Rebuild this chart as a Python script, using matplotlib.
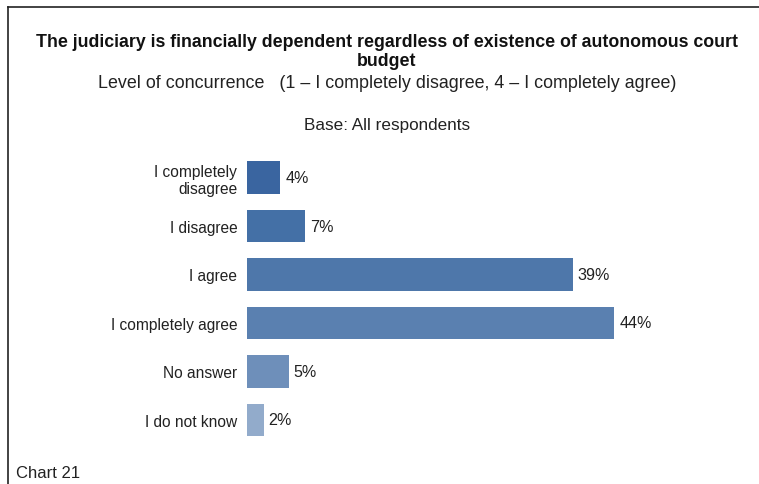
import matplotlib
matplotlib.use("Agg")
import matplotlib.pyplot as plt
from matplotlib.lines import Line2D

# ------------------- Data ------------------- #
categories = ["I completely\ndisagree", "I disagree", "I agree",
              "I completely agree", "No answer", "I do not know"]
values = [4, 7, 39, 44, 5, 2]
value_labels = ["4%", "7%", "39%", "44%", "5%", "2%"]
bar_colors = ["#3a65a0", "#4470a6", "#4e77aa", "#5a80b0", "#6e8fba", "#92abcb"]

plt.rcParams['font.family'] = ['Liberation Sans', 'DejaVu Sans']
W, H = 759, 485
fig = plt.figure(figsize=(W / 100, H / 100), dpi=100)
fig.patch.set_facecolor("white")

# axes placed in pixel terms
ax_left, ax_right, ax_top, ax_bottom = 247, 748, 154.25, 445.25
ax = fig.add_axes([ax_left / W, 1 - ax_bottom / H,
                   (ax_right - ax_left) / W, (ax_bottom - ax_top) / H])

y = list(range(len(categories)))
ax.barh(y, values, height=0.68, color=bar_colors, edgecolor="none")
ax.set_xlim(0, 60)
ax.set_ylim(len(categories) - 0.5, -0.5)

for yi, v, lab in zip(y, values, value_labels):
    ax.text(v + 0.6, yi, lab, va="center", ha="left", fontsize=11.6, color="#222222")

ax.set_yticks(y)
ax.set_yticklabels(categories, fontsize=11.2, color="#222222", linespacing=1.15)
ax.tick_params(axis="y", length=0, pad=7)
ax.set_xticks([])
for s in ax.spines.values():
    s.set_visible(False)

# ------------------- Titles ------------------- #
cx = 387 / W
fig.text(cx, 1 - 42.5 / H, "The judiciary is financially dependent regardless of existence of autonomous court",
         ha="center", va="center", fontsize=12.8, fontweight="bold", color="#111111")
fig.text(cx, 1 - 61.5 / H, "budget", ha="center", va="center", fontsize=12.8,
         fontweight="bold", color="#111111")
fig.text(cx, 1 - 84 / H, "Level of concurrence   (1 \u2013 I completely disagree, 4 \u2013 I completely agree)",
         ha="center", va="center", fontsize=12.9, color="#222222")
fig.text(cx, 1 - 126 / H, "Base: All respondents", ha="center", va="center",
         fontsize=12.3, color="#222222")
fig.text(16 / W, 1 - 474 / H, "Chart 21", ha="left", va="center",
         fontsize=12, color="#222222")

# frame lines (left and top only)
fig.add_artist(Line2D([7.5 / W, 7.5 / W], [0, 1 - 7.5 / H], color="#222222", lw=1.2))
fig.add_artist(Line2D([7.5 / W, 1], [1 - 7.5 / H, 1 - 7.5 / H], color="#222222", lw=1.2))

fig.savefig("out.png", dpi=100)
